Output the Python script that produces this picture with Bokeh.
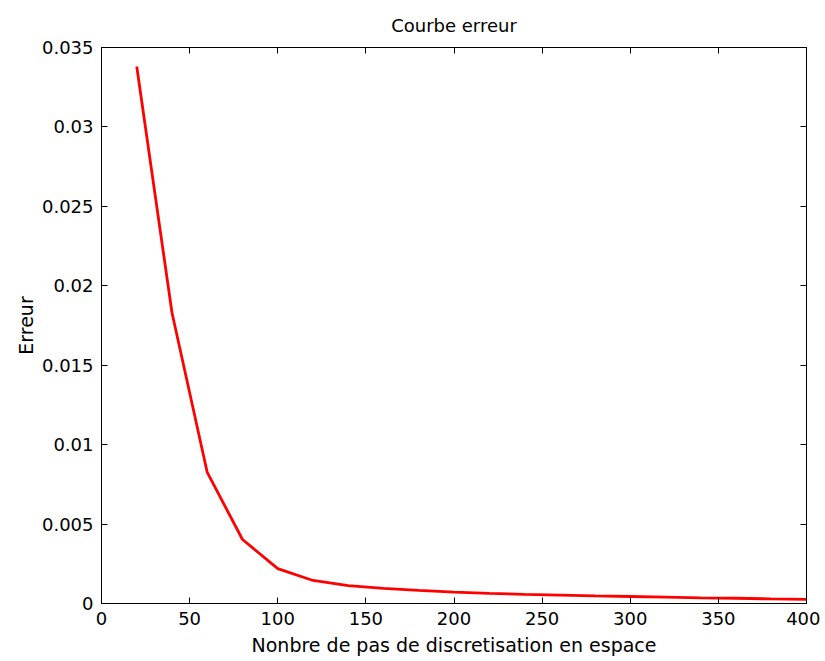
from bokeh.plotting import figure
from bokeh.models import Range1d, FixedTicker, LinearAxis
from bokeh.embed import file_html
from bokeh.resources import INLINE

# Data
n_pas = [20, 40, 60, 80, 100, 120, 140, 160, 180, 200, 220, 240, 260, 280, 300,
         320, 340, 360, 380, 400]
erreur = [0.0338, 0.0183, 0.00825, 0.00403, 0.0022, 0.00145, 0.00113, 0.00095,
          0.00082, 0.00071, 0.00064, 0.00058, 0.00053, 0.00048, 0.00044,
          0.00040, 0.00036, 0.00033, 0.00029, 0.00026]

x_ticks = [0, 50, 100, 150, 200, 250, 300, 350, 400]
y_ticks = [0, 0.005, 0.01, 0.015, 0.02, 0.025, 0.03, 0.035]
y_tick_labels = ["0", "0.005", "0.01", "0.015", "0.02", "0.025", "0.03", "0.035"]

FONT = "DejaVu Sans"

p = figure(width=820, height=658, output_backend="svg", toolbar_location=None,
           x_range=Range1d(0, 400), y_range=Range1d(0, 0.035),
           title="Courbe erreur",
           min_border_left=101, min_border_right=14, min_border_top=47,
           min_border_bottom=50)
p.title.align = "center"
p.title.text_font = FONT
p.title.text_font_size = "18px"
p.title.text_font_style = "normal"
p.title.text_color = "black"
p.title.standoff = 24
p.outline_line_color = "black"
p.xgrid.visible = False
p.ygrid.visible = False

p.line(n_pas, erreur, line_color="red", line_width=2.8)

for ax in p.xaxis:
    ax.ticker = FixedTicker(ticks=x_ticks)
    ax.axis_label = "Nonbre de pas de discretisation en espace"
    ax.axis_label_standoff = 6
for ax in p.yaxis:
    ax.ticker = FixedTicker(ticks=y_ticks)
    ax.major_label_overrides = {t: l for t, l in zip(y_ticks, y_tick_labels)}
    ax.axis_label = "Erreur"
    ax.axis_label_standoff = 2

for ax in list(p.xaxis) + list(p.yaxis):
    ax.major_tick_in = 6
    ax.major_tick_out = 0
    ax.minor_tick_in = 0
    ax.minor_tick_out = 0
    ax.axis_line_color = "black"
    ax.major_tick_line_color = "black"
    ax.major_label_text_font = FONT
    ax.major_label_text_font_size = "18px"
    ax.major_label_text_color = "black"
    ax.axis_label_text_font = FONT
    ax.axis_label_text_font_size = "19px"
    ax.axis_label_text_font_style = "normal"
    ax.axis_label_text_color = "black"
    ax.major_label_standoff = 8

top = LinearAxis(ticker=FixedTicker(ticks=x_ticks), major_tick_in=6, major_tick_out=0,
                 minor_tick_in=0, minor_tick_out=0, major_label_text_font_size="0px",
                 major_label_text_color=None, axis_line_color="black",
                 major_label_standoff=0, axis_label_standoff=0)
right = LinearAxis(ticker=FixedTicker(ticks=y_ticks), major_tick_in=6, major_tick_out=0,
                   minor_tick_in=0, minor_tick_out=0, major_label_text_font_size="0px",
                   major_label_text_color=None, axis_line_color="black",
                   major_label_standoff=0, axis_label_standoff=0)
p.add_layout(top, "above")
p.add_layout(right, "right")

open("out.html", "w").write(file_html(p, INLINE))
